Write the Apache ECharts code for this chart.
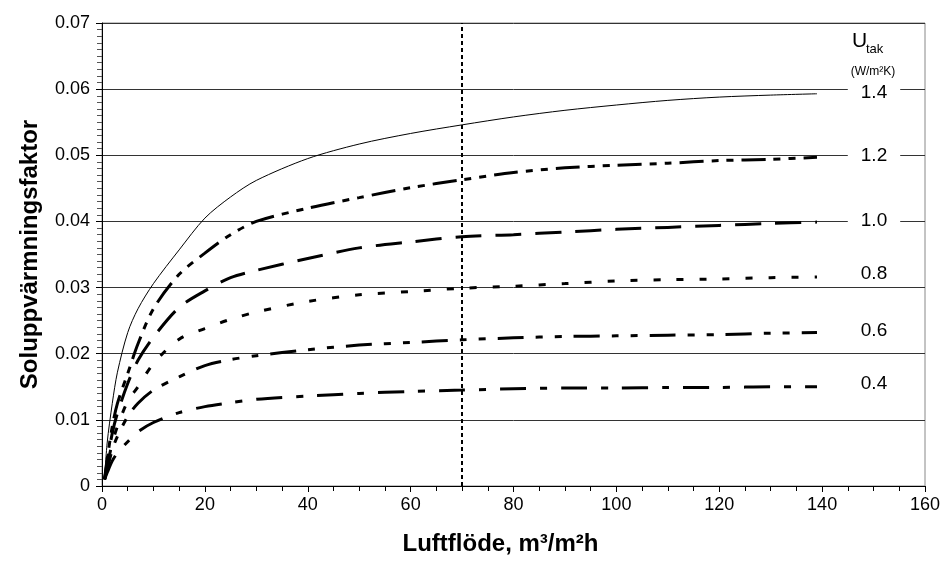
<!DOCTYPE html>
<html>
<head>
<meta charset="utf-8">
<title>Soluppvärmningsfaktor</title>
<script src="https://cdn.jsdelivr.net/npm/echarts@6/dist/echarts.min.js"></script>
<style>
  html, body { margin: 0; padding: 0; background: #fff; }
  #chart { width: 945px; height: 571px; }
</style>
</head>
<body>
<div id="chart"></div>
<script>
// luftflöde, m3/m2h
const flow = [0.5, 1, 2, 3, 5, 7, 10, 15, 20, 25, 30, 40, 50, 60, 70, 80, 90, 100, 110, 120, 130, 139]

// soluppvärmningsfaktor per U-värde för taket
const u14 = [0.001, 0.0065, 0.0125, 0.0172, 0.0232, 0.0268, 0.0306, 0.0357, 0.0405, 0.0437, 0.0462, 0.0495, 0.0517, 0.0533, 0.0546, 0.0558, 0.0568, 0.0576, 0.0583, 0.0588, 0.0591, 0.0593]
const u12 = [0.001, 0.004, 0.009, 0.0125, 0.017, 0.0215, 0.0268, 0.032, 0.0352, 0.038, 0.040, 0.042, 0.0436, 0.0451, 0.0463, 0.0474, 0.0481, 0.0485, 0.0488, 0.0492, 0.0494, 0.0497]
const u10 = [0.001, 0.0035, 0.008, 0.011, 0.0155, 0.019, 0.0225, 0.027, 0.0295, 0.0315, 0.0326, 0.0344, 0.036, 0.0369, 0.0377, 0.038, 0.0384, 0.0388, 0.0391, 0.0394, 0.0397, 0.0399]
const u08 = [0.001, 0.003, 0.0065, 0.009, 0.0128, 0.015, 0.0185, 0.0222, 0.0238, 0.0252, 0.0263, 0.0279, 0.0289, 0.0294, 0.0299, 0.0302, 0.0306, 0.031, 0.0312, 0.0313, 0.0315, 0.0316]
const u06 = [0.001, 0.0025, 0.0055, 0.0075, 0.0105, 0.0125, 0.0145, 0.0165, 0.0182, 0.0191, 0.0197, 0.0206, 0.0213, 0.0217, 0.0221, 0.0224, 0.0226, 0.0227, 0.0228, 0.0229, 0.0231, 0.0232]
const u04 = [0.001, 0.002, 0.0038, 0.005, 0.0067, 0.0082, 0.0096, 0.0111, 0.012, 0.0126, 0.0131, 0.0136, 0.014, 0.0143, 0.0145, 0.0147, 0.0148, 0.0148, 0.0149, 0.0149, 0.015, 0.015]

const uNames = ['1.4', '1.2', '1.0', '0.8', '0.6', '0.4']
const refFlow = 70

const chart = echarts.init(document.getElementById('chart'))

function pairs (ys) {
  return flow.map((x, i) => [x, ys[i]])
}

// linjetyper som i originalet
const styles = [
  {width: 1, type: 'solid'},
  {width: 3, type: [24, 8, 7, 8, 7, 8]},
  {width: 3, type: [26, 14]},
  {width: 3, type: [7, 16]},
  {width: 3, type: [26, 12, 7, 12, 7, 12]},
  {width: 3, type: [26, 14, 7, 14]}
]
const values = [u14, u12, u10, u08, u06, u04]

const series = values.map((ys, i) => ({
  name: uNames[i],
  type: 'line',
  data: pairs(ys),
  symbol: 'none',
  smooth: 0.3,
  lineStyle: {color: '#000', width: styles[i].width, type: styles[i].type, cap: 'butt'},
  silent: true
}))

series[0].markLine = {
  silent: true,
  symbol: 'none',
  label: {show: false},
  lineStyle: {color: '#000', width: 2, type: [4, 3]},
  data: [{xAxis: refFlow}]
}

// etiketter till höger
const font = '"Liberation Sans", Arial, sans-serif'
const labelY = [93, 156, 221, 274, 331, 384]
const graphic = uNames.map((t, i) => ({
  type: 'text',
  x: 874,
  y: labelY[i],
  z: 100,
  style: {
    text: t,
    font: '19px ' + font,
    fill: '#000',
    align: 'center',
    verticalAlign: 'middle',
    backgroundColor: '#fff',
    padding: [0, 13]
  }
}))
graphic.push(
  {type: 'text', x: 852, y: 41, z: 100, style: {text: 'U', font: '21px ' + font, fill: '#000', verticalAlign: 'middle'}},
  {type: 'text', x: 866, y: 49, z: 100, style: {text: 'tak', font: '13px ' + font, fill: '#000', verticalAlign: 'middle'}},
  {type: 'text', x: 873, y: 72, z: 100, style: {text: '(W/m²K)', font: '12px ' + font, fill: '#000', align: 'center', verticalAlign: 'middle'}}
)

const option = {
  animation: false,
  backgroundColor: '#fff',
  textStyle: {fontFamily: font},
  grid: {
    left: 102,
    right: 20,
    top: 23,
    bottom: 85,
    show: true,
    borderColor: '#888',
    borderWidth: 1
  },
  xAxis: {
    type: 'value',
    min: 0,
    max: 160,
    interval: 20,
    name: 'Luftflöde, m³/m²h',
    nameLocation: 'middle',
    nameGap: 46,
    nameTextStyle: {fontSize: 24, fontWeight: 'bold', color: '#000', padding: [0, 26, 0, 0]},
    axisLine: {show: true, lineStyle: {color: '#000', width: 1}},
    axisTick: {show: true, length: 6, lineStyle: {color: '#000'}},
    minorTick: {show: true, splitNumber: 4, length: 5, lineStyle: {color: '#000'}},
    axisLabel: {fontSize: 18, color: '#000', margin: 10},
    splitLine: {show: false}
  },
  yAxis: {
    type: 'value',
    min: 0,
    max: 0.07,
    interval: 0.01,
    name: 'Soluppvärmningsfaktor',
    nameLocation: 'middle',
    nameGap: 60,
    nameTextStyle: {fontSize: 24, fontWeight: 'bold', color: '#000'},
    axisLine: {show: true, lineStyle: {color: '#000', width: 1}},
    axisTick: {show: true, length: 6, lineStyle: {color: '#000'}},
    minorTick: {show: true, splitNumber: 10, length: 5, lineStyle: {color: '#555'}},
    axisLabel: {
      fontSize: 18,
      color: '#000',
      margin: 12,
      formatter: function (v) {
        return v === 0 ? '0' : v.toFixed(2)
      }
    },
    splitLine: {show: true, lineStyle: {color: '#333', width: 1}}
  },
  graphic: graphic,
  series: series
}

chart.setOption(option)
</script>
</body>
</html>
